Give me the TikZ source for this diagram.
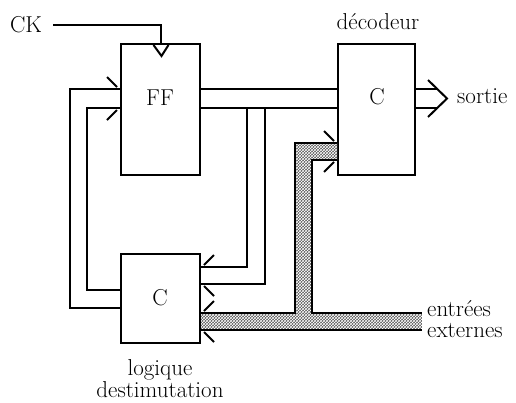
\documentclass[tikz,border=0pt]{standalone}
\usetikzlibrary{positioning, calc, patterns}

% pointe ouverte d'un bus : deux traits de part et d'autre
\newcommand{\pointebus}[3]{%
    \draw[fil] ($(#1)+({-13*#3},-12)$) -- ($(#1)+({-3*#3},-2)$);
    \draw[fil] ($(#2)+({-3*#3},2)$) -- ($(#2)+({-13*#3},12)$);
}

\begin{document}
\begin{tikzpicture}[
    x=1pt, y=-1pt,
    bloc/.style   = {rectangle, draw, line width=2pt, inner sep=0pt},
    fil/.style    = {line width=2pt},
    etiq/.style   = {font=\fontsize{23}{25}\selectfont, inner sep=0pt},
    hachure/.style = {fill=black!65, postaction={pattern=crosshatch, pattern color=white}}
]
    \useasboundingbox (0,0) rectangle (516,402);

    % --- Blocs ---
    \node (ff)    [bloc, minimum width=79pt, minimum height=131pt] at (160.5,109.5) {};
    \node (dec)   [bloc, minimum width=77pt, minimum height=131pt] at (376.5,109.5) {};
    \node (logic) [bloc, minimum width=79pt, minimum height=89pt]  at (160.5,298.5) {};

    \node (fflab)  [etiq] at (160,98)  {FF};
    \node (declab) [etiq] at (377,97)  {C};
    \node (loglab) [etiq] at (160,298) {C};

    % --- Etiquettes ---
    \node (cklab)   [etiq] at (26,25) {CK};
    \node (dectit)  [etiq] at (378,22) {décodeur};
    \node (sortie)  [etiq, anchor=west] at (457,96) {sortie};
    \node (entrees) [etiq, anchor=west, align=left] at (427,319) {entrées\\[-4pt]externes};
    \node (logtit)  [etiq, align=center] at (160,379) {logique\\[-3pt]destimutation};

    % --- Horloge ---
    \draw[fil] ([xshift=11pt]cklab.east) -| (ff.north);
    \draw[fil] ($(ff.north)+(-7,2)$) -- ($(ff.north)+(1,13)$) -- ($(ff.north)+(8,2)$);

    % --- Bus FF vers decodeur ---
    \draw[fil] (ff.east |- 0,89)  -- (dec.west |- 0,89);
    \draw[fil] (ff.east |- 0,108) -- (dec.west |- 0,108);

    % --- Bus FF vers logique ---
    \coordinate (ba) at (247,108);
    \coordinate (bb) at (265,108);
    \draw[fil] (ba) |- (logic.east |- 0,267);
    \draw[fil] (bb) |- (logic.east |- 0,284);
    \coordinate (la1) at (logic.east |- 0,267);
    \coordinate (la2) at (logic.east |- 0,284);
    \pointebus{la1}{la2}{-1}

    % --- Bus logique vers FF ---
    \coordinate (ga) at (70,89);
    \coordinate (gb) at (87,108);
    \draw[fil] (logic.west |- 0,308) -| (ga) -- (ga -| ff.west);
    \draw[fil] (logic.west |- 0,290) -| (gb) -- (gb -| ff.west);
    \coordinate (fa1) at (ff.west |- 0,89);
    \coordinate (fa2) at (ff.west |- 0,108);
    \pointebus{fa1}{fa2}{1}

    % --- Sortie du decodeur ---
    \coordinate (sa) at (dec.east |- 0,89);
    \coordinate (sb) at (dec.east |- 0,108);
    \draw[fil] (sa) -- ++(21,0);
    \draw[fil] (sb) -- ++(21,0);
    \draw[fil] ($(sa)+(12,-9)$) -- ($(sa)+(31,9.5)$) -- ($(sb)+(12,9)$);

    % --- Entrees externes (bus hachure) ---
    \coordinate (ea) at (422,313);
    \coordinate (eb) at (422,330);
    \coordinate (va) at (295,0);
    \coordinate (vb) at (312,0);
    \coordinate (da) at (dec.west |- 0,143);
    \coordinate (db) at (dec.west |- 0,160);
    \coordinate (lc1) at (logic.east |- 0,313);
    \coordinate (lc2) at (logic.east |- 0,330);
    \fill[hachure] (lc1) -- (ea) -- (eb) -- (lc2) -- cycle;
    \fill[hachure] (va |- ea) -- (va |- da) -- (da) -- (db) -- (vb |- db) -- (vb |- ea) -- cycle;
    \draw[fil] (lc1) -- (va |- lc1) -- (va |- da) -- (da);
    \draw[fil] (db) -- (vb |- db) -- (vb |- ea) -- (ea);
    \draw[fil] (lc2) -- (eb);
    \pointebus{lc1}{lc2}{-1}
    \pointebus{da}{db}{1}

\end{tikzpicture}
\end{document}
